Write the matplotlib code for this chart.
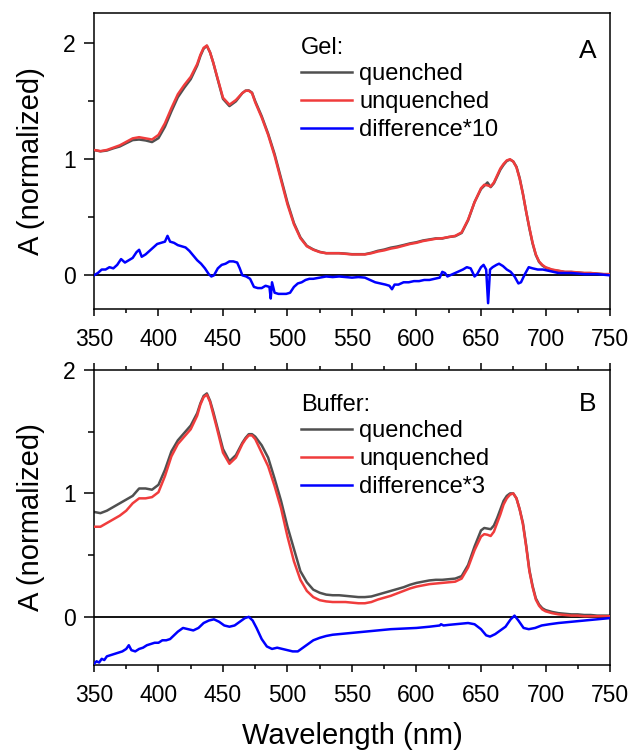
import matplotlib
matplotlib.use("Agg")
import matplotlib.pyplot as plt
from matplotlib.ticker import MultipleLocator

plt.rcParams['font.family'] = ['Liberation Sans', 'DejaVu Sans']

# wavelength grid for the absorption spectra (nm), denser around the peaks
wl = [350, 355, 360, 365, 370, 375, 380, 385, 390, 395, 400, 405, 410, 415, 420, 425, 430,
      432.5, 435, 437.5, 440, 442.5, 445,
      450, 455, 460, 465,
      467.5, 470, 472.5, 475,
      480, 485, 490, 495, 500, 505, 510, 515, 520, 525, 530, 535, 540, 545, 550, 555, 560,
      565, 570, 575, 580, 585, 590, 595, 600, 605, 610, 615, 620, 625, 630, 635, 640, 645, 650,
      652.5, 655, 657.5, 660, 662.5, 665, 667.5, 670, 672.5, 675, 677.5, 680, 682.5, 685,
      687.5, 690, 692.5, 695, 697.5, 700,
      705, 710, 715, 720, 725, 730, 735, 740, 745, 750]

# Gel sample
gel_unquenched = [1.08, 1.07, 1.08, 1.10, 1.12, 1.15, 1.18, 1.19, 1.18, 1.17, 1.21, 1.31, 1.44, 1.56, 1.64, 1.71, 1.82,
                  1.90, 1.96, 1.98, 1.92, 1.83, 1.73,
                  1.53, 1.47, 1.51, 1.57,
                  1.59, 1.59, 1.57, 1.49,
                  1.36, 1.21, 1.03, 0.82, 0.61, 0.44, 0.32, 0.25, 0.22, 0.20, 0.19, 0.19, 0.19, 0.185, 0.18, 0.18, 0.18,
                  0.19, 0.205, 0.215, 0.23, 0.24, 0.255, 0.27, 0.28, 0.295, 0.305, 0.315, 0.32, 0.33, 0.34, 0.37, 0.48, 0.63, 0.75,
                  0.78, 0.775, 0.765, 0.80, 0.86, 0.92, 0.96, 0.99, 1.00, 0.98, 0.93, 0.83, 0.70, 0.55,
                  0.41, 0.28, 0.18, 0.12, 0.09, 0.07,
                  0.05, 0.04, 0.03, 0.03, 0.025, 0.02, 0.02, 0.015, 0.01, 0.01]
gel_quenched = [1.08, 1.068, 1.075, 1.094, 1.11, 1.138, 1.165, 1.17, 1.162, 1.148, 1.182, 1.28, 1.412, 1.534, 1.616, 1.69, 1.807,
                1.89, 1.953, 1.977, 1.92, 1.831, 1.725,
                1.52, 1.458, 1.499, 1.57,
                1.591, 1.593, 1.574, 1.50,
                1.371, 1.22, 1.045, 0.836, 0.626, 0.45, 0.327, 0.254, 0.223, 0.202, 0.191, 0.191, 0.191, 0.187, 0.182, 0.182, 0.182,
                0.194, 0.211, 0.222, 0.238, 0.248, 0.261, 0.275, 0.285, 0.3, 0.309, 0.318, 0.317, 0.33, 0.337, 0.365, 0.474, 0.631, 0.743,
                0.771, 0.80, 0.76, 0.793, 0.851, 0.91, 0.952, 0.985, 0.997, 0.981, 0.935, 0.837, 0.703, 0.548,
                0.404, 0.274, 0.175, 0.115, 0.085, 0.066,
                0.047, 0.038, 0.028, 0.028, 0.024, 0.019, 0.019, 0.014, 0.01, 0.01]
gel_diff_wl = [350, 353, 356, 359, 362, 365, 368, 371, 374, 377, 380, 383, 385, 387,
               390, 393, 396, 399, 402, 405, 407, 409, 412, 415, 418, 421, 424, 427,
               430, 433, 436, 439, 441, 443, 446, 449, 452, 455, 458, 461, 463, 465,
               468, 471, 474, 477, 480, 483, 486, 487, 488, 490, 493, 496, 499, 502,
               505, 508, 511, 514, 517, 520, 525, 530, 535, 540, 545, 550, 555, 560,
               564, 568, 572, 576, 579, 581, 583, 586, 590, 594, 598, 602, 606, 610,
               614, 618, 620, 622, 624, 628, 632, 636, 639, 642, 645, 647, 650, 652,
               654, 655.5, 657, 659, 662, 664, 667, 670, 673, 676, 679, 681, 684, 687,
               690, 694, 698, 702, 706, 710, 715, 720, 725, 730, 740, 750]
gel_diff = [0.00, 0.02, 0.05, 0.05, 0.07, 0.06, 0.09, 0.14, 0.11, 0.13, 0.15, 0.20, 0.22, 0.16,
            0.18, 0.21, 0.24, 0.27, 0.28, 0.29, 0.34, 0.29, 0.28, 0.26, 0.25, 0.24, 0.21, 0.17,
            0.13, 0.10, 0.06, 0.01, -0.01, 0.00, 0.06, 0.09, 0.10, 0.12, 0.12, 0.11, 0.06, 0.00,
            -0.01, -0.03, -0.10, -0.11, -0.11, -0.09, -0.10, -0.20, -0.06, -0.15, -0.16, -0.16, -0.16, -0.15,
            -0.10, -0.07, -0.06, -0.04, -0.03, -0.03, -0.02, -0.01, -0.015, -0.01, -0.015, -0.02, -0.015, -0.02,
            -0.04, -0.06, -0.07, -0.08, -0.09, -0.12, -0.08, -0.08, -0.06, -0.06, -0.05, -0.05, -0.04, -0.04,
            -0.03, -0.02, 0.03, 0.02, -0.01, 0.01, 0.03, 0.05, 0.07, 0.06, -0.01, 0.01, 0.07, 0.09,
            0.05, -0.24, 0.05, 0.07, 0.09, 0.10, 0.08, 0.05, 0.03, -0.01, -0.07, -0.06, 0.01, 0.07,
            0.06, 0.05, 0.05, 0.04, 0.03, 0.02, 0.02, 0.02, 0.015, 0.01, 0.01, 0.00]

# Buffer sample
buf_quenched = [0.85, 0.84, 0.86, 0.89, 0.92, 0.95, 0.98, 1.04, 1.04, 1.03, 1.07, 1.19, 1.34, 1.43, 1.49, 1.55, 1.65,
                1.73, 1.79, 1.81, 1.75, 1.66, 1.56,
                1.36, 1.26, 1.31, 1.41,
                1.45, 1.48, 1.48, 1.46,
                1.39, 1.29, 1.12, 0.94, 0.73, 0.55, 0.37, 0.28, 0.22, 0.195, 0.18, 0.175, 0.175, 0.17, 0.165, 0.16, 0.16,
                0.165, 0.18, 0.195, 0.21, 0.225, 0.24, 0.26, 0.275, 0.285, 0.295, 0.30, 0.30, 0.305, 0.31, 0.33, 0.42, 0.57, 0.70,
                0.72, 0.715, 0.71, 0.74, 0.80, 0.87, 0.94, 0.98, 1.00, 1.00, 0.96, 0.87, 0.76, 0.58,
                0.38, 0.25, 0.15, 0.10, 0.07, 0.055,
                0.04, 0.03, 0.025, 0.02, 0.02, 0.015, 0.015, 0.01, 0.01, 0.01]
buf_unquenched = [0.73, 0.73, 0.76, 0.79, 0.82, 0.86, 0.92, 0.96, 0.96, 0.97, 1.01, 1.14, 1.30, 1.40, 1.46, 1.52, 1.63,
                  1.72, 1.78, 1.80, 1.74, 1.64, 1.54,
                  1.33, 1.24, 1.29, 1.40,
                  1.44, 1.47, 1.47, 1.44,
                  1.33, 1.22, 1.06, 0.88, 0.65, 0.45, 0.30, 0.21, 0.16, 0.135, 0.125, 0.12, 0.12, 0.12, 0.115, 0.11, 0.11,
                  0.12, 0.14, 0.155, 0.17, 0.19, 0.21, 0.23, 0.245, 0.255, 0.265, 0.27, 0.275, 0.28, 0.285, 0.31, 0.40, 0.54, 0.65,
                  0.67, 0.665, 0.655, 0.69, 0.76, 0.83, 0.91, 0.96, 0.99, 1.00, 0.96, 0.87, 0.75, 0.57,
                  0.37, 0.24, 0.14, 0.09, 0.06, 0.045,
                  0.03, 0.02, 0.015, 0.01, 0.01, 0.005, 0.005, 0.005, 0.005, 0.005]
buf_diff_wl = [350, 352, 354, 356, 358, 360, 363, 366, 369, 372, 375, 377, 379, 382,
               385, 388, 391, 394, 397, 400, 403, 406, 409, 412, 415, 419, 423, 427,
               431, 435, 439, 443, 447, 451, 455, 459, 463, 467, 470, 473, 476, 480,
               484, 488, 492, 496, 500, 504, 508, 512, 516, 520, 525, 530, 535, 540,
               545, 550, 560, 570, 580, 590, 600, 610, 618, 619, 621, 625, 630, 635,
               640, 645, 650, 654, 657, 661, 665, 669, 673, 676, 679, 683, 687, 692,
               697, 703, 710, 720, 730, 740, 750]
buf_diff = [-0.38, -0.36, -0.37, -0.34, -0.35, -0.32, -0.31, -0.30, -0.29, -0.28, -0.26, -0.23, -0.27, -0.28,
            -0.26, -0.25, -0.23, -0.22, -0.21, -0.21, -0.19, -0.19, -0.18, -0.15, -0.12, -0.09, -0.10, -0.11,
            -0.09, -0.05, -0.03, -0.02, -0.04, -0.07, -0.08, -0.07, -0.04, -0.01, 0.00, -0.03, -0.09, -0.18,
            -0.24, -0.26, -0.25, -0.26, -0.27, -0.28, -0.28, -0.25, -0.22, -0.19, -0.17, -0.155, -0.145, -0.14,
            -0.135, -0.13, -0.12, -0.11, -0.10, -0.095, -0.09, -0.08, -0.07, -0.06, -0.07, -0.065, -0.06, -0.055,
            -0.05, -0.06, -0.10, -0.15, -0.16, -0.14, -0.11, -0.08, -0.02, 0.01, -0.03, -0.09, -0.10, -0.09,
            -0.07, -0.06, -0.05, -0.04, -0.03, -0.02, -0.01]

c_quench = '#505050'
c_unquench = '#f03c3c'
c_diff = '#0000ff'

fig = plt.figure(figsize=(6.32, 7.56), dpi=100)
ax1 = fig.add_axes((0.1487, 0.5913, 0.8165, 0.3915))
ax2 = fig.add_axes((0.1487, 0.1204, 0.8165, 0.3902))


def panel(ax, quenched, unquenched, dwl, diff, title, diff_label, letter, letter_y, ylim, top_ticks):
    ax.axhline(0, color='black', lw=1.3, zorder=1)
    ax.plot(wl, quenched, color=c_quench, lw=1.8, label='quenched', zorder=2)
    ax.plot(wl, unquenched, color=c_unquench, lw=1.8, label='unquenched', zorder=3)
    ax.plot(dwl, diff, color=c_diff, lw=1.8, label=diff_label, zorder=4)
    ax.set_xlim(350, 750)
    ax.set_ylim(*ylim)
    ax.xaxis.set_major_locator(MultipleLocator(50))
    ax.xaxis.set_minor_locator(MultipleLocator(25))
    ax.yaxis.set_major_locator(MultipleLocator(1))
    ax.yaxis.set_minor_locator(MultipleLocator(0.5))
    ax.tick_params(which='both', direction='out', labelsize=16.5, width=1.1,
                   top=top_ticks, right=False)
    ax.tick_params(axis='x', which='major', length=5, pad=8.5)
    ax.tick_params(axis='x', which='minor', length=3)
    ax.tick_params(axis='y', which='major', length=7, pad=6)
    ax.tick_params(axis='y', which='minor', length=4)
    for s in ax.spines.values():
        s.set_linewidth(1.1)
    ax.set_ylabel('A (normalized)', fontsize=21)
    ax.yaxis.set_label_coords(-0.095, 0.5)
    leg = ax.legend(loc='upper left', bbox_to_anchor=(0.401, 0.918), frameon=False,
                    title=title, fontsize=17, title_fontsize=17, alignment='left',
                    handlelength=2.15, handletextpad=0.33, labelspacing=0.25,
                    borderpad=0, borderaxespad=0)
    leg._legend_box.sep = 3
    ax.text(0.957, letter_y, letter, transform=ax.transAxes, fontsize=19,
            ha='center', va='center')


panel(ax1, gel_quenched, gel_unquenched, gel_diff_wl, gel_diff,
      'Gel:', 'difference*10', 'A', 0.872, (-0.29, 2.26), False)
panel(ax2, buf_quenched, buf_unquenched, buf_diff_wl, buf_diff,
      'Buffer:', 'difference*3', 'B', 0.885, (-0.39, 2.0), True)
ax2.set_xlabel('Wavelength (nm)', fontsize=21, labelpad=11)

fig.savefig('out.png', dpi=100)
